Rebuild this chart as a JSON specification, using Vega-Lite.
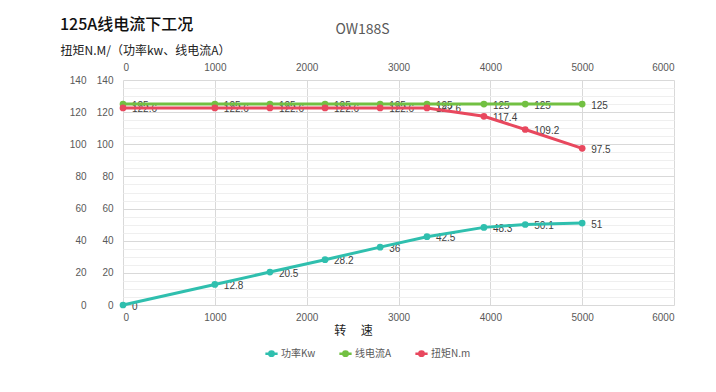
{
  "$schema": "https://vega.github.io/schema/vega-lite/v6.json",
  "width": 551,
  "height": 225,
  "autosize": {"type": "none"},
  "padding": {"left": 123, "top": 80, "right": 42, "bottom": 87},
  "background": "white",
  "config": {
    "view": {"stroke": null},
    "font": "Noto Sans CJK SC",
    "axis": {"labelFont": "Liberation Sans", "labelFontSize": 10, "labelColor": "#595959", "ticks": false, "domain": false, "format": "d"}
  },
  "title": {
    "text": "125A线电流下工况",
    "anchor": "start",
    "frame": "group",
    "dx": -63,
    "dy": 15,
    "fontSize": 16,
    "fontWeight": 500,
    "color": "#111111",
    "font": "Noto Sans CJK SC"
  },
  "datasets": {
    "d": [
      {"rpm": 0, "value": 0, "series": "功率Kw"},
      {"rpm": 1000, "value": 12.8, "series": "功率Kw"},
      {"rpm": 1600, "value": 20.5, "series": "功率Kw"},
      {"rpm": 2200, "value": 28.2, "series": "功率Kw"},
      {"rpm": 2800, "value": 36, "series": "功率Kw"},
      {"rpm": 3310, "value": 42.5, "series": "功率Kw"},
      {"rpm": 3930, "value": 48.3, "series": "功率Kw"},
      {"rpm": 4380, "value": 50.1, "series": "功率Kw"},
      {"rpm": 5000, "value": 51, "series": "功率Kw"},
      {"rpm": 0, "value": 125, "series": "线电流A"},
      {"rpm": 1000, "value": 125, "series": "线电流A"},
      {"rpm": 1600, "value": 125, "series": "线电流A"},
      {"rpm": 2200, "value": 125, "series": "线电流A"},
      {"rpm": 2800, "value": 125, "series": "线电流A"},
      {"rpm": 3310, "value": 125, "series": "线电流A"},
      {"rpm": 3930, "value": 125, "series": "线电流A"},
      {"rpm": 4380, "value": 125, "series": "线电流A"},
      {"rpm": 5000, "value": 125, "series": "线电流A"},
      {"rpm": 0, "value": 122.6, "series": "扭矩N.m"},
      {"rpm": 1000, "value": 122.6, "series": "扭矩N.m"},
      {"rpm": 1600, "value": 122.6, "series": "扭矩N.m"},
      {"rpm": 2200, "value": 122.6, "series": "扭矩N.m"},
      {"rpm": 2800, "value": 122.6, "series": "扭矩N.m"},
      {"rpm": 3310, "value": 122.6, "series": "扭矩N.m"},
      {"rpm": 3930, "value": 117.4, "series": "扭矩N.m"},
      {"rpm": 4380, "value": 109.2, "series": "扭矩N.m"},
      {"rpm": 5000, "value": 97.5, "series": "扭矩N.m"}
    ]
  },
  "data": {"name": "d"},
  "layer": [
    {
      "mark": {"type": "text", "align": "left", "baseline": "middle", "dx": 9, "dy": 1.5, "fontSize": 10, "color": "#404040", "font": "Liberation Sans"},
      "encoding": {
        "x": {"field": "rpm", "type": "quantitative", "scale": {"domain": [0, 6000]}, "axis": null},
        "y": {"field": "value", "type": "quantitative", "scale": {"domain": [0, 140]},
          "axis": {"orient": "left", "values": [5, 10, 15, 25, 30, 35, 45, 50, 55, 65, 70, 75, 85, 90, 95, 105, 110, 115, 125, 130, 135], "labels": false, "grid": true, "gridColor": "#efefef", "title": null}},
        "text": {"field": "value", "type": "quantitative", "format": ""}
      }
    },
    {
      "mark": {"type": "line", "strokeWidth": 3},
      "encoding": {
        "x": {"field": "rpm", "type": "quantitative", "scale": {"domain": [0, 6000]},
          "axis": {"orient": "bottom", "values": [0, 1000, 2000, 3000, 4000, 5000, 6000], "grid": true, "gridColor": "#d9d9d9", "labelPadding": 7,
            "title": "转　 速", "titleFont": "Noto Sans CJK SC", "titleFontSize": 12, "titleFontWeight": "normal", "titleColor": "#222222",
            "titleX": 230, "titleY": 25, "titleAlign": "center", "titleBaseline": "middle"}},
        "y": {"field": "value", "type": "quantitative", "scale": {"domain": [0, 140]},
          "axis": {"orient": "left", "values": [0, 20, 40, 60, 80, 100, 120, 140], "grid": true, "gridColor": "#d9d9d9", "labelPadding": 10,
            "title": "扭矩N.M/（功率kw、线电流A）", "titleAngle": 0, "titleFont": "Noto Sans CJK SC", "titleFontSize": 12, "titleFontWeight": "normal", "titleColor": "#222222",
            "titleAlign": "left", "titleBaseline": "middle", "titleX": -63, "titleY": -30}},
        "color": {"field": "series", "type": "nominal",
          "scale": {"domain": ["功率Kw", "线电流A", "扭矩N.m"], "range": ["#2FBFAE", "#72C042", "#E8485E"]},
          "legend": {"orient": "none", "legendX": 141, "legendY": 266, "direction": "horizontal", "title": null,
            "symbolType": "M-1,0H1M0.36,0A0.36,0.36,0,1,1,-0.36,0A0.36,0.36,0,1,1,0.36,0",
            "symbolSize": 150, "symbolStrokeWidth": 2.5, "labelFontSize": 10, "labelColor": "#595959", "labelFont": "Noto Sans CJK SC", "columnPadding": 18, "labelOffset": 2,
            "encode": {"symbols": {"update": {"fill": {"scale": "color", "field": "value"}, "stroke": {"scale": "color", "field": "value"}}}}}}
      }
    },
    {
      "mark": {"type": "point", "filled": true, "size": 45, "opacity": 1},
      "encoding": {
        "x": {"field": "rpm", "type": "quantitative", "scale": {"domain": [0, 6000]},
          "axis": {"orient": "top", "values": [0, 1000, 2000, 3000, 4000, 5000, 6000], "grid": false, "labelPadding": 8,
            "title": "OW188S", "titleFont": "Noto Sans CJK SC", "titleFontSize": 14, "titleFontWeight": "normal", "titleColor": "#595959",
            "titleX": 239, "titleY": -51, "titleAlign": "center", "titleBaseline": "middle"}},
        "y": {"field": "value", "type": "quantitative", "scale": {"domain": [0, 140]},
          "axis": {"orient": "left", "values": [0, 20, 40, 60, 80, 100, 120, 140], "grid": false, "labelPadding": 10, "offset": 27, "title": null}},
        "color": {"field": "series", "type": "nominal", "legend": null}
      }
    }
  ],
  "resolve": {"axis": {"x": "independent", "y": "independent"}}
}
